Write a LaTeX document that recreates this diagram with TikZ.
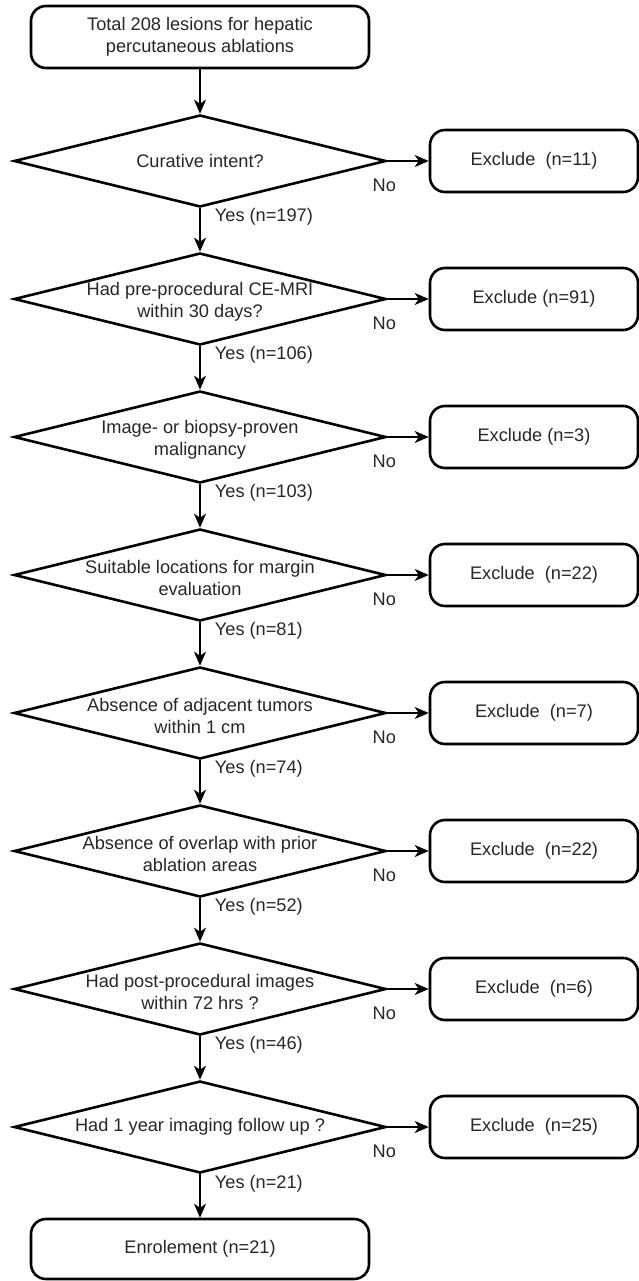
\documentclass[tikz,border=0pt]{standalone}
\usepackage{fontspec}
\setmainfont{Liberation Sans}
\usetikzlibrary{shapes.geometric,arrows.meta}
\begin{document}
\begin{tikzpicture}[x=1pt,y=-1pt,
  every node/.style={font=\fontsize{18.2}{22}\selectfont, text=black!85},
  rbox/.style={draw=black, line width=2.6pt, rounded corners=15pt, minimum width=338pt, minimum height=62pt, align=center, inner sep=0pt},
  xbox/.style={draw=black, line width=2.6pt, rounded corners=15pt, minimum width=208pt, minimum height=62pt, inner sep=0pt},
  dia/.style={draw=black, diamond, line width=2.6pt, minimum width=372pt, minimum height=92pt, inner sep=0pt},
  dlabel/.style={align=center, inner sep=0pt},
  dlabeltwo/.style={align=center, inner sep=0pt, yshift=-3pt},
  arr/.style={-{Stealth[length=14pt,width=12pt,inset=4pt]}, line width=1.8pt},
  yeslbl/.style={pos=0, anchor=west, xshift=14pt, yshift=-8pt, inner sep=0pt},
  nolbl/.style={pos=0, anchor=north, xshift=-3pt, yshift=-17pt, inner sep=0pt}]
\useasboundingbox (0,0) rectangle (639,1281);

\node[rbox] (top) at (200,37) {Total 208 lesions for hepatic\\percutaneous ablations};

\node[dia, label={[dlabel]center:Curative intent?}] (d1) at (200,161) {};
\node[dia, label={[dlabeltwo]center:{Had pre-procedural CE-MRI\\within 30 days?}}] (d2) at (200,299) {};
\node[dia, label={[dlabeltwo]center:{Image- or biopsy-proven\\malignancy}}] (d3) at (200,437) {};
\node[dia, label={[dlabeltwo]center:{Suitable locations for margin\\evaluation}}] (d4) at (200,575) {};
\node[dia, label={[dlabeltwo]center:{Absence of adjacent tumors\\within 1 cm}}] (d5) at (200,713) {};
\node[dia, label={[dlabeltwo]center:{Absence of overlap with prior\\ablation areas}}] (d6) at (200,851) {};
\node[dia, label={[dlabeltwo]center:{Had post-procedural images\\within 72 hrs ?}}] (d7) at (200,989) {};
\node[dia, label={[dlabel]center:{Had 1 year imaging follow up ?}}] (d8) at (200,1127) {};

\node[xbox] (e1) at (534,161) {Exclude\ \ (n=11)};
\node[xbox] (e2) at (534,299) {Exclude (n=91)};
\node[xbox] (e3) at (534,437) {Exclude (n=3)};
\node[xbox] (e4) at (534,575) {Exclude\ \ (n=22)};
\node[xbox] (e5) at (534,713) {Exclude\ \ (n=7)};
\node[xbox] (e6) at (534,851) {Exclude\ \ (n=22)};
\node[xbox] (e7) at (534,989) {Exclude\ \ (n=6)};
\node[xbox] (e8) at (534,1127) {Exclude\ \ (n=25)};

\node[rbox, minimum height=60pt] (enr) at (200,1249) {Enrolement (n=21)};

\draw[arr] (top.south) -- (d1.north);
\draw[arr] (d1.south) -- node[yeslbl] {Yes (n=197)} (d2.north);
\draw[arr] (d2.south) -- node[yeslbl] {Yes (n=106)} (d3.north);
\draw[arr] (d3.south) -- node[yeslbl] {Yes (n=103)} (d4.north);
\draw[arr] (d4.south) -- node[yeslbl] {Yes (n=81)} (d5.north);
\draw[arr] (d5.south) -- node[yeslbl] {Yes (n=74)} (d6.north);
\draw[arr] (d6.south) -- node[yeslbl] {Yes (n=52)} (d7.north);
\draw[arr] (d7.south) -- node[yeslbl] {Yes (n=46)} (d8.north);
\draw[arr] (d8.south) -- node[yeslbl, yshift=-1pt] {Yes (n=21)} (enr.north);

\foreach \k in {1,...,8}{
  \draw[arr] (d\k.east) -- node[nolbl] {No} (e\k.west);
}
\end{tikzpicture}
\end{document}
